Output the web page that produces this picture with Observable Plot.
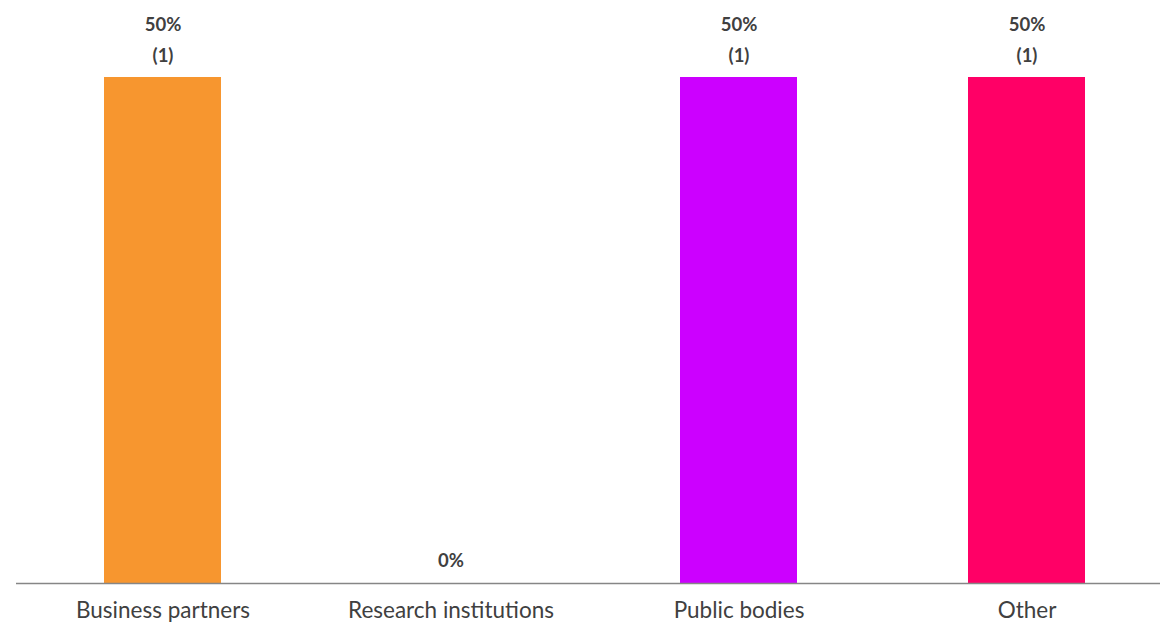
<!DOCTYPE html>
<html>
<head>
<meta charset="utf-8">
<script src="https://cdn.jsdelivr.net/npm/d3@7"></script>
<script src="https://cdn.jsdelivr.net/npm/@observablehq/plot@0.6"></script>
<style>
  html, body { margin: 0; padding: 0; background: #fff; overflow: hidden; }
  #chart svg { display: block; }
</style>
</head>
<body>
<div id="chart"></div>
<script>
const categories = ["Business partners", "Research institutions", "Public bodies", "Other"];
const percents = [50, 0, 50, 50];
const counts = [1, 0, 1, 1];
const colors = ["#F7962F", "#FFFFFF", "#CC00FF", "#FF0066"];

const data = categories.map((c, i) => ({
  category: c,
  pct: percents[i],
  count: counts[i],
  color: colors[i]
}));
const withCount = data.filter(d => d.count > 0);
const withoutCount = data.filter(d => d.count === 0);

const labelStyle = { lineAnchor: "middle", fontSize: 18.5, fontWeight: "bold", fill: "#404040" };

const chart = Plot.plot({
  width: 1162,
  height: 625,
  marginTop: 77,
  marginBottom: 42,
  marginLeft: 16,
  marginRight: 2,
  style: { fontFamily: "Lato, 'Open Sans', sans-serif", background: "#fff" },
  x: { domain: categories, range: [18.5, 1171], paddingInner: 0.594, paddingOuter: 0.297, label: null },
  y: { domain: [0, 50], axis: null },
  marks: [
    Plot.barY(data, { x: "category", y: "pct", fill: "color" }),
    Plot.ruleY([0], { stroke: "#868686", strokeWidth: 1.3 }),
    Plot.axisX({ tickSize: 0, tickPadding: 19, fontSize: 22.5, fill: "#404040", label: null }),
    Plot.text(withCount, { x: "category", y: "pct", text: d => d.pct + "%", dy: -52, ...labelStyle }),
    Plot.text(withCount, { x: "category", y: "pct", text: d => "(" + d.count + ")", dy: -21, ...labelStyle }),
    Plot.text(withoutCount, { x: "category", y: "pct", text: d => d.pct + "%", dy: -22, ...labelStyle })
  ]
});
document.getElementById("chart").appendChild(chart);
</script>
</body>
</html>
